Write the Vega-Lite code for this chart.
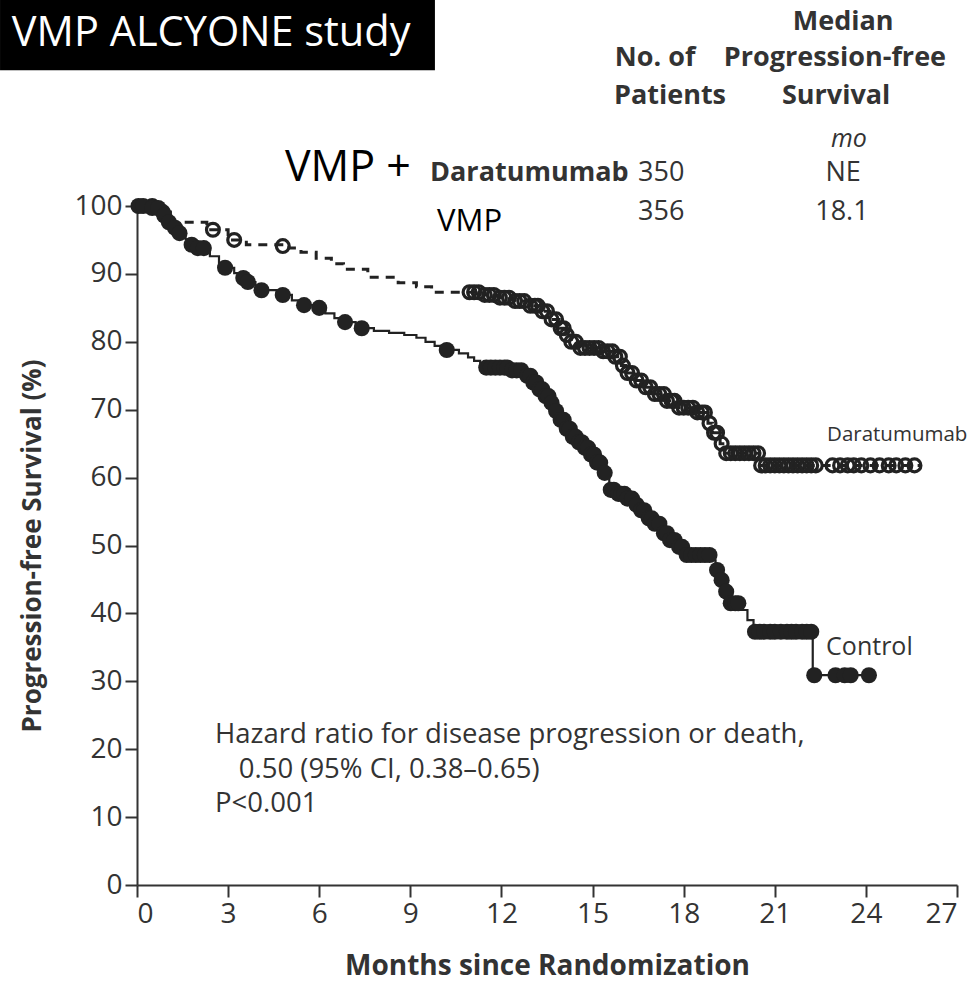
{
  "$schema": "https://vega.github.io/schema/vega-lite/v6.json",
  "width": 820,
  "height": 679,
  "autosize": {"type": "none"},
  "padding": {"left": 137, "top": 206, "right": 12, "bottom": 103},
  "background": "white",
  "datasets": {
    "km": [
      {"arm": "Daratumumab", "month": 0, "pfs": 100},
      {"arm": "Daratumumab", "month": 0.9, "pfs": 99.1},
      {"arm": "Daratumumab", "month": 1.2, "pfs": 97.6},
      {"arm": "Daratumumab", "month": 2.3, "pfs": 96.5},
      {"arm": "Daratumumab", "month": 3.0, "pfs": 95.0},
      {"arm": "Daratumumab", "month": 3.6, "pfs": 94.3},
      {"arm": "Daratumumab", "month": 5.0, "pfs": 93.8},
      {"arm": "Daratumumab", "month": 5.4, "pfs": 93.2},
      {"arm": "Daratumumab", "month": 5.9, "pfs": 92.3},
      {"arm": "Daratumumab", "month": 6.4, "pfs": 91.5},
      {"arm": "Daratumumab", "month": 6.8, "pfs": 90.7},
      {"arm": "Daratumumab", "month": 7.6, "pfs": 89.5},
      {"arm": "Daratumumab", "month": 8.6, "pfs": 88.7},
      {"arm": "Daratumumab", "month": 9.2, "pfs": 88.1},
      {"arm": "Daratumumab", "month": 9.7, "pfs": 87.3},
      {"arm": "Daratumumab", "month": 11.4, "pfs": 86.9},
      {"arm": "Daratumumab", "month": 11.9, "pfs": 86.5},
      {"arm": "Daratumumab", "month": 12.4, "pfs": 86.0},
      {"arm": "Daratumumab", "month": 12.9, "pfs": 85.3},
      {"arm": "Daratumumab", "month": 13.3, "pfs": 84.5},
      {"arm": "Daratumumab", "month": 13.6, "pfs": 83.3},
      {"arm": "Daratumumab", "month": 13.9, "pfs": 82.0},
      {"arm": "Daratumumab", "month": 14.1, "pfs": 81.0},
      {"arm": "Daratumumab", "month": 14.3, "pfs": 80.0},
      {"arm": "Daratumumab", "month": 14.5, "pfs": 79.1},
      {"arm": "Daratumumab", "month": 15.3, "pfs": 78.6},
      {"arm": "Daratumumab", "month": 15.7, "pfs": 77.8},
      {"arm": "Daratumumab", "month": 15.95, "pfs": 76.5},
      {"arm": "Daratumumab", "month": 16.1, "pfs": 75.4},
      {"arm": "Daratumumab", "month": 16.4, "pfs": 74.3},
      {"arm": "Daratumumab", "month": 16.7, "pfs": 73.3},
      {"arm": "Daratumumab", "month": 17.0, "pfs": 72.3},
      {"arm": "Daratumumab", "month": 17.4, "pfs": 71.3},
      {"arm": "Daratumumab", "month": 17.8, "pfs": 70.3},
      {"arm": "Daratumumab", "month": 18.4, "pfs": 69.6},
      {"arm": "Daratumumab", "month": 18.8, "pfs": 68.0},
      {"arm": "Daratumumab", "month": 18.95, "pfs": 66.6},
      {"arm": "Daratumumab", "month": 19.2, "pfs": 65.0},
      {"arm": "Daratumumab", "month": 19.35, "pfs": 63.6},
      {"arm": "Daratumumab", "month": 20.5, "pfs": 61.8},
      {"arm": "Daratumumab", "month": 25.8, "pfs": 61.8},
      {"arm": "Control", "month": 0, "pfs": 100},
      {"arm": "Control", "month": 0.35, "pfs": 99.7},
      {"arm": "Control", "month": 0.8, "pfs": 98.6},
      {"arm": "Control", "month": 1.0, "pfs": 97.6},
      {"arm": "Control", "month": 1.2, "pfs": 96.8},
      {"arm": "Control", "month": 1.4, "pfs": 96.0},
      {"arm": "Control", "month": 1.6, "pfs": 95.1},
      {"arm": "Control", "month": 1.8, "pfs": 94.3},
      {"arm": "Control", "month": 1.95, "pfs": 93.8},
      {"arm": "Control", "month": 2.4, "pfs": 92.6},
      {"arm": "Control", "month": 2.7, "pfs": 91.6},
      {"arm": "Control", "month": 2.9, "pfs": 90.9},
      {"arm": "Control", "month": 3.2, "pfs": 90.1},
      {"arm": "Control", "month": 3.45, "pfs": 89.4},
      {"arm": "Control", "month": 3.6, "pfs": 88.8},
      {"arm": "Control", "month": 3.9, "pfs": 88.1},
      {"arm": "Control", "month": 4.1, "pfs": 87.6},
      {"arm": "Control", "month": 4.6, "pfs": 86.9},
      {"arm": "Control", "month": 5.1, "pfs": 86.1},
      {"arm": "Control", "month": 5.4, "pfs": 85.4},
      {"arm": "Control", "month": 5.9, "pfs": 85.0},
      {"arm": "Control", "month": 6.2, "pfs": 84.2},
      {"arm": "Control", "month": 6.5, "pfs": 83.5},
      {"arm": "Control", "month": 6.8, "pfs": 82.9},
      {"arm": "Control", "month": 7.2, "pfs": 82.0},
      {"arm": "Control", "month": 7.8, "pfs": 81.6},
      {"arm": "Control", "month": 8.3, "pfs": 81.3},
      {"arm": "Control", "month": 8.8, "pfs": 81.0},
      {"arm": "Control", "month": 9.2, "pfs": 80.6},
      {"arm": "Control", "month": 9.5, "pfs": 80.0},
      {"arm": "Control", "month": 9.8, "pfs": 79.4},
      {"arm": "Control", "month": 10.1, "pfs": 78.8},
      {"arm": "Control", "month": 10.6, "pfs": 78.3},
      {"arm": "Control", "month": 10.9, "pfs": 77.7},
      {"arm": "Control", "month": 11.1, "pfs": 77.2},
      {"arm": "Control", "month": 11.3, "pfs": 76.6},
      {"arm": "Control", "month": 11.45, "pfs": 76.2},
      {"arm": "Control", "month": 12.3, "pfs": 75.8},
      {"arm": "Control", "month": 12.8, "pfs": 75.0},
      {"arm": "Control", "month": 13.0, "pfs": 74.0},
      {"arm": "Control", "month": 13.2, "pfs": 73.0},
      {"arm": "Control", "month": 13.4, "pfs": 72.0},
      {"arm": "Control", "month": 13.6, "pfs": 71.0},
      {"arm": "Control", "month": 13.75, "pfs": 69.8},
      {"arm": "Control", "month": 13.9, "pfs": 68.5},
      {"arm": "Control", "month": 14.1, "pfs": 67.2},
      {"arm": "Control", "month": 14.3, "pfs": 66.0},
      {"arm": "Control", "month": 14.5, "pfs": 65.2},
      {"arm": "Control", "month": 14.7, "pfs": 64.4},
      {"arm": "Control", "month": 14.9, "pfs": 63.4},
      {"arm": "Control", "month": 15.1, "pfs": 62.2},
      {"arm": "Control", "month": 15.35, "pfs": 60.7},
      {"arm": "Control", "month": 15.55, "pfs": 58.2},
      {"arm": "Control", "month": 15.8, "pfs": 57.6},
      {"arm": "Control", "month": 16.1, "pfs": 56.9},
      {"arm": "Control", "month": 16.4, "pfs": 56.0},
      {"arm": "Control", "month": 16.6, "pfs": 55.2},
      {"arm": "Control", "month": 16.8, "pfs": 54.0},
      {"arm": "Control", "month": 17.0, "pfs": 53.2},
      {"arm": "Control", "month": 17.3, "pfs": 51.8},
      {"arm": "Control", "month": 17.5, "pfs": 50.8},
      {"arm": "Control", "month": 17.8, "pfs": 49.8},
      {"arm": "Control", "month": 18.05, "pfs": 48.6},
      {"arm": "Control", "month": 18.95, "pfs": 47.8},
      {"arm": "Control", "month": 19.05, "pfs": 46.4},
      {"arm": "Control", "month": 19.2, "pfs": 44.9},
      {"arm": "Control", "month": 19.35, "pfs": 43.2},
      {"arm": "Control", "month": 19.5, "pfs": 41.5},
      {"arm": "Control", "month": 19.85, "pfs": 40.5},
      {"arm": "Control", "month": 20.1, "pfs": 39.0},
      {"arm": "Control", "month": 20.3, "pfs": 37.3},
      {"arm": "Control", "month": 22.25, "pfs": 30.9},
      {"arm": "Control", "month": 24.3, "pfs": 30.9}
    ],
    "censored": [
      {"arm": "Daratumumab", "month": 0.5, "pfs": 100},
      {"arm": "Daratumumab", "month": 0.85, "pfs": 99.1},
      {"arm": "Daratumumab", "month": 2.5, "pfs": 96.5},
      {"arm": "Daratumumab", "month": 3.2, "pfs": 95.0},
      {"arm": "Daratumumab", "month": 4.8, "pfs": 94.1},
      {"arm": "Daratumumab", "month": 10.95, "pfs": 87.3},
      {"arm": "Daratumumab", "month": 11.1, "pfs": 87.3},
      {"arm": "Daratumumab", "month": 11.25, "pfs": 87.3},
      {"arm": "Daratumumab", "month": 11.45, "pfs": 86.9},
      {"arm": "Daratumumab", "month": 11.6, "pfs": 86.9},
      {"arm": "Daratumumab", "month": 11.75, "pfs": 86.9},
      {"arm": "Daratumumab", "month": 11.95, "pfs": 86.5},
      {"arm": "Daratumumab", "month": 12.1, "pfs": 86.5},
      {"arm": "Daratumumab", "month": 12.25, "pfs": 86.5},
      {"arm": "Daratumumab", "month": 12.45, "pfs": 86.0},
      {"arm": "Daratumumab", "month": 12.6, "pfs": 86.0},
      {"arm": "Daratumumab", "month": 12.75, "pfs": 86.0},
      {"arm": "Daratumumab", "month": 12.95, "pfs": 85.3},
      {"arm": "Daratumumab", "month": 13.1, "pfs": 85.3},
      {"arm": "Daratumumab", "month": 13.2, "pfs": 85.3},
      {"arm": "Daratumumab", "month": 13.35, "pfs": 84.5},
      {"arm": "Daratumumab", "month": 13.5, "pfs": 84.5},
      {"arm": "Daratumumab", "month": 13.65, "pfs": 83.3},
      {"arm": "Daratumumab", "month": 13.8, "pfs": 83.3},
      {"arm": "Daratumumab", "month": 13.95, "pfs": 82.0},
      {"arm": "Daratumumab", "month": 14.05, "pfs": 82.0},
      {"arm": "Daratumumab", "month": 14.15, "pfs": 81.0},
      {"arm": "Daratumumab", "month": 14.3, "pfs": 80.0},
      {"arm": "Daratumumab", "month": 14.45, "pfs": 80.0},
      {"arm": "Daratumumab", "month": 14.6, "pfs": 79.1},
      {"arm": "Daratumumab", "month": 14.75, "pfs": 79.1},
      {"arm": "Daratumumab", "month": 14.9, "pfs": 79.1},
      {"arm": "Daratumumab", "month": 15.05, "pfs": 79.1},
      {"arm": "Daratumumab", "month": 15.2, "pfs": 79.1},
      {"arm": "Daratumumab", "month": 15.35, "pfs": 78.6},
      {"arm": "Daratumumab", "month": 15.5, "pfs": 78.6},
      {"arm": "Daratumumab", "month": 15.65, "pfs": 78.6},
      {"arm": "Daratumumab", "month": 15.75, "pfs": 77.8},
      {"arm": "Daratumumab", "month": 15.9, "pfs": 77.8},
      {"arm": "Daratumumab", "month": 16.0, "pfs": 76.5},
      {"arm": "Daratumumab", "month": 16.15, "pfs": 75.4},
      {"arm": "Daratumumab", "month": 16.3, "pfs": 75.4},
      {"arm": "Daratumumab", "month": 16.45, "pfs": 74.3},
      {"arm": "Daratumumab", "month": 16.6, "pfs": 74.3},
      {"arm": "Daratumumab", "month": 16.75, "pfs": 73.3},
      {"arm": "Daratumumab", "month": 16.9, "pfs": 73.3},
      {"arm": "Daratumumab", "month": 17.05, "pfs": 72.3},
      {"arm": "Daratumumab", "month": 17.2, "pfs": 72.3},
      {"arm": "Daratumumab", "month": 17.35, "pfs": 72.3},
      {"arm": "Daratumumab", "month": 17.45, "pfs": 71.3},
      {"arm": "Daratumumab", "month": 17.6, "pfs": 71.3},
      {"arm": "Daratumumab", "month": 17.7, "pfs": 71.3},
      {"arm": "Daratumumab", "month": 17.85, "pfs": 70.3},
      {"arm": "Daratumumab", "month": 18.0, "pfs": 70.3},
      {"arm": "Daratumumab", "month": 18.15, "pfs": 70.3},
      {"arm": "Daratumumab", "month": 18.3, "pfs": 70.3},
      {"arm": "Daratumumab", "month": 18.45, "pfs": 69.6},
      {"arm": "Daratumumab", "month": 18.6, "pfs": 69.6},
      {"arm": "Daratumumab", "month": 18.7, "pfs": 69.6},
      {"arm": "Daratumumab", "month": 18.85, "pfs": 68.0},
      {"arm": "Daratumumab", "month": 19.0, "pfs": 66.6},
      {"arm": "Daratumumab", "month": 19.1, "pfs": 66.6},
      {"arm": "Daratumumab", "month": 19.25, "pfs": 65.0},
      {"arm": "Daratumumab", "month": 19.4, "pfs": 63.6},
      {"arm": "Daratumumab", "month": 19.55, "pfs": 63.6},
      {"arm": "Daratumumab", "month": 19.7, "pfs": 63.6},
      {"arm": "Daratumumab", "month": 19.85, "pfs": 63.6},
      {"arm": "Daratumumab", "month": 20.0, "pfs": 63.6},
      {"arm": "Daratumumab", "month": 20.15, "pfs": 63.6},
      {"arm": "Daratumumab", "month": 20.3, "pfs": 63.6},
      {"arm": "Daratumumab", "month": 20.45, "pfs": 63.6},
      {"arm": "Daratumumab", "month": 20.55, "pfs": 61.8},
      {"arm": "Daratumumab", "month": 20.7, "pfs": 61.8},
      {"arm": "Daratumumab", "month": 20.85, "pfs": 61.8},
      {"arm": "Daratumumab", "month": 21.0, "pfs": 61.8},
      {"arm": "Daratumumab", "month": 21.15, "pfs": 61.8},
      {"arm": "Daratumumab", "month": 21.3, "pfs": 61.8},
      {"arm": "Daratumumab", "month": 21.45, "pfs": 61.8},
      {"arm": "Daratumumab", "month": 21.6, "pfs": 61.8},
      {"arm": "Daratumumab", "month": 21.75, "pfs": 61.8},
      {"arm": "Daratumumab", "month": 21.9, "pfs": 61.8},
      {"arm": "Daratumumab", "month": 22.05, "pfs": 61.8},
      {"arm": "Daratumumab", "month": 22.2, "pfs": 61.8},
      {"arm": "Daratumumab", "month": 22.35, "pfs": 61.8},
      {"arm": "Daratumumab", "month": 22.9, "pfs": 61.8},
      {"arm": "Daratumumab", "month": 23.15, "pfs": 61.8},
      {"arm": "Daratumumab", "month": 23.4, "pfs": 61.8},
      {"arm": "Daratumumab", "month": 23.6, "pfs": 61.8},
      {"arm": "Daratumumab", "month": 23.85, "pfs": 61.8},
      {"arm": "Daratumumab", "month": 24.15, "pfs": 61.8},
      {"arm": "Daratumumab", "month": 24.45, "pfs": 61.8},
      {"arm": "Daratumumab", "month": 24.75, "pfs": 61.8},
      {"arm": "Daratumumab", "month": 25.0, "pfs": 61.8},
      {"arm": "Daratumumab", "month": 25.3, "pfs": 61.8},
      {"arm": "Daratumumab", "month": 25.6, "pfs": 61.8},
      {"arm": "Control", "month": 0.05, "pfs": 100},
      {"arm": "Control", "month": 0.2, "pfs": 100},
      {"arm": "Control", "month": 0.5, "pfs": 99.7},
      {"arm": "Control", "month": 0.7, "pfs": 99.7},
      {"arm": "Control", "month": 0.9, "pfs": 98.6},
      {"arm": "Control", "month": 1.05, "pfs": 97.6},
      {"arm": "Control", "month": 1.25, "pfs": 96.8},
      {"arm": "Control", "month": 1.4, "pfs": 96.0},
      {"arm": "Control", "month": 1.8, "pfs": 94.3},
      {"arm": "Control", "month": 2.0, "pfs": 93.8},
      {"arm": "Control", "month": 2.2, "pfs": 93.8},
      {"arm": "Control", "month": 2.9, "pfs": 90.9},
      {"arm": "Control", "month": 3.5, "pfs": 89.4},
      {"arm": "Control", "month": 3.65, "pfs": 88.8},
      {"arm": "Control", "month": 4.1, "pfs": 87.6},
      {"arm": "Control", "month": 4.8, "pfs": 86.9},
      {"arm": "Control", "month": 5.5, "pfs": 85.4},
      {"arm": "Control", "month": 6.0, "pfs": 85.0},
      {"arm": "Control", "month": 6.85, "pfs": 82.9},
      {"arm": "Control", "month": 7.4, "pfs": 82.0},
      {"arm": "Control", "month": 10.2, "pfs": 78.8},
      {"arm": "Control", "month": 11.5, "pfs": 76.2},
      {"arm": "Control", "month": 11.65, "pfs": 76.2},
      {"arm": "Control", "month": 11.8, "pfs": 76.2},
      {"arm": "Control", "month": 11.95, "pfs": 76.2},
      {"arm": "Control", "month": 12.1, "pfs": 76.2},
      {"arm": "Control", "month": 12.2, "pfs": 76.2},
      {"arm": "Control", "month": 12.35, "pfs": 75.8},
      {"arm": "Control", "month": 12.5, "pfs": 75.8},
      {"arm": "Control", "month": 12.65, "pfs": 75.8},
      {"arm": "Control", "month": 12.85, "pfs": 75.0},
      {"arm": "Control", "month": 12.95, "pfs": 75.0},
      {"arm": "Control", "month": 13.05, "pfs": 74.0},
      {"arm": "Control", "month": 13.15, "pfs": 74.0},
      {"arm": "Control", "month": 13.25, "pfs": 73.0},
      {"arm": "Control", "month": 13.35, "pfs": 73.0},
      {"arm": "Control", "month": 13.45, "pfs": 72.0},
      {"arm": "Control", "month": 13.55, "pfs": 72.0},
      {"arm": "Control", "month": 13.65, "pfs": 71.0},
      {"arm": "Control", "month": 13.8, "pfs": 69.8},
      {"arm": "Control", "month": 13.95, "pfs": 68.5},
      {"arm": "Control", "month": 14.05, "pfs": 68.5},
      {"arm": "Control", "month": 14.15, "pfs": 67.2},
      {"arm": "Control", "month": 14.25, "pfs": 67.2},
      {"arm": "Control", "month": 14.35, "pfs": 66.0},
      {"arm": "Control", "month": 14.45, "pfs": 66.0},
      {"arm": "Control", "month": 14.55, "pfs": 65.2},
      {"arm": "Control", "month": 14.65, "pfs": 65.2},
      {"arm": "Control", "month": 14.75, "pfs": 64.4},
      {"arm": "Control", "month": 14.85, "pfs": 64.4},
      {"arm": "Control", "month": 14.95, "pfs": 63.4},
      {"arm": "Control", "month": 15.05, "pfs": 63.4},
      {"arm": "Control", "month": 15.15, "pfs": 62.2},
      {"arm": "Control", "month": 15.25, "pfs": 62.2},
      {"arm": "Control", "month": 15.4, "pfs": 60.7},
      {"arm": "Control", "month": 15.6, "pfs": 58.2},
      {"arm": "Control", "month": 15.7, "pfs": 58.2},
      {"arm": "Control", "month": 15.85, "pfs": 57.6},
      {"arm": "Control", "month": 15.95, "pfs": 57.6},
      {"arm": "Control", "month": 16.05, "pfs": 57.6},
      {"arm": "Control", "month": 16.15, "pfs": 56.9},
      {"arm": "Control", "month": 16.3, "pfs": 56.9},
      {"arm": "Control", "month": 16.45, "pfs": 56.0},
      {"arm": "Control", "month": 16.6, "pfs": 55.2},
      {"arm": "Control", "month": 16.7, "pfs": 55.2},
      {"arm": "Control", "month": 16.85, "pfs": 54.0},
      {"arm": "Control", "month": 16.95, "pfs": 54.0},
      {"arm": "Control", "month": 17.05, "pfs": 53.2},
      {"arm": "Control", "month": 17.2, "pfs": 53.2},
      {"arm": "Control", "month": 17.35, "pfs": 51.8},
      {"arm": "Control", "month": 17.45, "pfs": 51.8},
      {"arm": "Control", "month": 17.55, "pfs": 50.8},
      {"arm": "Control", "month": 17.7, "pfs": 50.8},
      {"arm": "Control", "month": 17.85, "pfs": 49.8},
      {"arm": "Control", "month": 17.95, "pfs": 49.8},
      {"arm": "Control", "month": 18.1, "pfs": 48.6},
      {"arm": "Control", "month": 18.25, "pfs": 48.6},
      {"arm": "Control", "month": 18.4, "pfs": 48.6},
      {"arm": "Control", "month": 18.55, "pfs": 48.6},
      {"arm": "Control", "month": 18.7, "pfs": 48.6},
      {"arm": "Control", "month": 18.85, "pfs": 48.6},
      {"arm": "Control", "month": 19.1, "pfs": 46.4},
      {"arm": "Control", "month": 19.25, "pfs": 44.9},
      {"arm": "Control", "month": 19.4, "pfs": 43.2},
      {"arm": "Control", "month": 19.55, "pfs": 41.5},
      {"arm": "Control", "month": 19.7, "pfs": 41.5},
      {"arm": "Control", "month": 19.8, "pfs": 41.5},
      {"arm": "Control", "month": 20.35, "pfs": 37.3},
      {"arm": "Control", "month": 20.5, "pfs": 37.3},
      {"arm": "Control", "month": 20.65, "pfs": 37.3},
      {"arm": "Control", "month": 20.85, "pfs": 37.3},
      {"arm": "Control", "month": 21.0, "pfs": 37.3},
      {"arm": "Control", "month": 21.2, "pfs": 37.3},
      {"arm": "Control", "month": 21.4, "pfs": 37.3},
      {"arm": "Control", "month": 21.55, "pfs": 37.3},
      {"arm": "Control", "month": 21.7, "pfs": 37.3},
      {"arm": "Control", "month": 21.9, "pfs": 37.3},
      {"arm": "Control", "month": 22.05, "pfs": 37.3},
      {"arm": "Control", "month": 22.2, "pfs": 37.3},
      {"arm": "Control", "month": 22.3, "pfs": 30.9},
      {"arm": "Control", "month": 23.0, "pfs": 30.9},
      {"arm": "Control", "month": 23.3, "pfs": 30.9},
      {"arm": "Control", "month": 23.5, "pfs": 30.9},
      {"arm": "Control", "month": 24.1, "pfs": 30.9}
    ]
  },
  "layer": [
    {
      "data": {"values": [{}]},
      "mark": {"type": "rect", "color": "black", "clip": false},
      "encoding": {
        "x": {"datum": -4.51, "type": "quantitative"},
        "x2": {"datum": 9.81},
        "y": {"datum": 130.4, "type": "quantitative"},
        "y2": {"datum": 120.0}
      }
    },
    {
      "data": {"name": "km"},
      "transform": [{"filter": "datum.arm === 'Daratumumab'"}],
      "mark": {"type": "line", "interpolate": "step-after", "color": "#222", "strokeWidth": 3, "strokeDash": [9, 7]},
      "encoding": {
        "x": {
          "field": "month", "type": "quantitative",
          "scale": {"domain": [0, 27], "nice": false, "zero": false},
          "axis": {"title": "Months since Randomization", "values": [0, 3, 6, 9, 12, 15, 18, 21, 24, 27]}
        },
        "y": {
          "field": "pfs", "type": "quantitative",
          "scale": {"domain": [0, 100], "nice": false},
          "axis": {"title": "Progression-free Survival (%)", "values": [0, 10, 20, 30, 40, 50, 60, 70, 80, 90, 100]}
        }
      }
    },
    {
      "data": {"name": "km"},
      "transform": [{"filter": "datum.arm === 'Control'"}],
      "mark": {"type": "line", "interpolate": "step-after", "color": "#222", "strokeWidth": 2.2},
      "encoding": {
        "x": {"field": "month", "type": "quantitative"},
        "y": {"field": "pfs", "type": "quantitative"}
      }
    },
    {
      "data": {"name": "censored"},
      "transform": [{"filter": "datum.arm === 'Daratumumab'"}],
      "mark": {"type": "point", "shape": "circle", "filled": false, "stroke": "#222", "strokeWidth": 3.2, "size": 165, "opacity": 1},
      "encoding": {
        "x": {"field": "month", "type": "quantitative"},
        "y": {"field": "pfs", "type": "quantitative"}
      }
    },
    {
      "data": {"name": "censored"},
      "transform": [{"filter": "datum.arm === 'Control'"}],
      "mark": {"type": "circle", "color": "#222", "size": 260, "opacity": 1},
      "encoding": {
        "x": {"field": "month", "type": "quantitative"},
        "y": {"field": "pfs", "type": "quantitative"}
      }
    },
    {
      "data": {"values": [{}]},
      "mark": {"type": "text", "text": "VMP ALCYONE study", "align": "left", "baseline": "alphabetic", "font": "Open Sans", "fontSize": 41.5, "color": "white"},
      "encoding": {"x": {"datum": -4.12, "type": "quantitative"}, "y": {"datum": 123.6, "type": "quantitative"}}
    },
    {
      "data": {"values": [{}]},
      "mark": {"type": "text", "text": "VMP +", "align": "left", "baseline": "alphabetic", "font": "Open Sans", "fontSize": 43, "color": "black"},
      "encoding": {"x": {"datum": 4.87, "type": "quantitative"}, "y": {"datum": 103.7, "type": "quantitative"}}
    },
    {
      "data": {"values": [{}]},
      "mark": {"type": "text", "text": "VMP", "align": "left", "baseline": "alphabetic", "font": "Open Sans", "fontSize": 31, "color": "black"},
      "encoding": {"x": {"datum": 9.88, "type": "quantitative"}, "y": {"datum": 96.3, "type": "quantitative"}}
    },
    {
      "data": {"values": [{}]},
      "mark": {"type": "text", "text": "Daratumumab", "align": "left", "baseline": "alphabetic", "font": "Open Sans", "fontSize": 27, "fontWeight": "bold", "color": "#333"},
      "encoding": {"x": {"datum": 9.65, "type": "quantitative"}, "y": {"datum": 103.7, "type": "quantitative"}}
    },
    {
      "data": {"values": [{}]},
      "mark": {"type": "text", "text": "350", "align": "left", "baseline": "alphabetic", "font": "Open Sans", "fontSize": 27, "color": "#333"},
      "encoding": {"x": {"datum": 16.5, "type": "quantitative"}, "y": {"datum": 103.7, "type": "quantitative"}}
    },
    {
      "data": {"values": [{}]},
      "mark": {"type": "text", "text": "356", "align": "left", "baseline": "alphabetic", "font": "Open Sans", "fontSize": 27, "color": "#333"},
      "encoding": {"x": {"datum": 16.5, "type": "quantitative"}, "y": {"datum": 97.9, "type": "quantitative"}}
    },
    {
      "data": {"values": [{}]},
      "mark": {"type": "text", "text": "NE", "align": "center", "baseline": "alphabetic", "font": "Open Sans", "fontSize": 27, "color": "#333"},
      "encoding": {"x": {"datum": 23.25, "type": "quantitative"}, "y": {"datum": 103.7, "type": "quantitative"}}
    },
    {
      "data": {"values": [{}]},
      "mark": {"type": "text", "text": "18.1", "align": "center", "baseline": "alphabetic", "font": "Open Sans", "fontSize": 27, "color": "#333"},
      "encoding": {"x": {"datum": 23.21, "type": "quantitative"}, "y": {"datum": 97.9, "type": "quantitative"}}
    },
    {
      "data": {"values": [{}]},
      "mark": {"type": "text", "text": "mo", "align": "center", "baseline": "alphabetic", "font": "Open Sans", "fontSize": 25, "fontStyle": "italic", "color": "#333"},
      "encoding": {"x": {"datum": 23.44, "type": "quantitative"}, "y": {"datum": 108.7, "type": "quantitative"}}
    },
    {
      "data": {"values": [{}]},
      "mark": {"type": "text", "text": "Median", "align": "center", "baseline": "alphabetic", "font": "Open Sans", "fontSize": 27, "fontWeight": "bold", "color": "#333"},
      "encoding": {"x": {"datum": 23.25, "type": "quantitative"}, "y": {"datum": 125.9, "type": "quantitative"}}
    },
    {
      "data": {"values": [{}]},
      "mark": {"type": "text", "text": "No. of", "align": "center", "baseline": "alphabetic", "font": "Open Sans", "fontSize": 27, "fontWeight": "bold", "color": "#333"},
      "encoding": {"x": {"datum": 17.06, "type": "quantitative"}, "y": {"datum": 120.6, "type": "quantitative"}}
    },
    {
      "data": {"values": [{}]},
      "mark": {"type": "text", "text": "Progression-free", "align": "center", "baseline": "alphabetic", "font": "Open Sans", "fontSize": 27, "fontWeight": "bold", "color": "#333"},
      "encoding": {"x": {"datum": 22.98, "type": "quantitative"}, "y": {"datum": 120.6, "type": "quantitative"}}
    },
    {
      "data": {"values": [{}]},
      "mark": {"type": "text", "text": "Patients", "align": "center", "baseline": "alphabetic", "font": "Open Sans", "fontSize": 27, "fontWeight": "bold", "color": "#333"},
      "encoding": {"x": {"datum": 17.55, "type": "quantitative"}, "y": {"datum": 115.0, "type": "quantitative"}}
    },
    {
      "data": {"values": [{}]},
      "mark": {"type": "text", "text": "Survival", "align": "center", "baseline": "alphabetic", "font": "Open Sans", "fontSize": 27, "fontWeight": "bold", "color": "#333"},
      "encoding": {"x": {"datum": 23.02, "type": "quantitative"}, "y": {"datum": 115.0, "type": "quantitative"}}
    },
    {
      "data": {"values": [{}]},
      "mark": {"type": "text", "text": "Daratumumab", "align": "left", "baseline": "alphabetic", "font": "Open Sans", "fontSize": 20.5, "color": "#333"},
      "encoding": {"x": {"datum": 22.72, "type": "quantitative"}, "y": {"datum": 65.4, "type": "quantitative"}}
    },
    {
      "data": {"values": [{}]},
      "mark": {"type": "text", "text": "Control", "align": "left", "baseline": "alphabetic", "font": "Open Sans", "fontSize": 25, "color": "#333"},
      "encoding": {"x": {"datum": 22.69, "type": "quantitative"}, "y": {"datum": 33.9, "type": "quantitative"}}
    },
    {
      "data": {"values": [{}]},
      "mark": {"type": "text", "text": "Hazard ratio for disease progression or death,", "align": "left", "baseline": "alphabetic", "font": "Open Sans", "fontSize": 27.5, "color": "#333"},
      "encoding": {"x": {"datum": 2.57, "type": "quantitative"}, "y": {"datum": 20.9, "type": "quantitative"}}
    },
    {
      "data": {"values": [{}]},
      "mark": {"type": "text", "text": "0.50 (95% CI, 0.38–0.65)", "align": "left", "baseline": "alphabetic", "font": "Open Sans", "fontSize": 27.5, "color": "#333"},
      "encoding": {"x": {"datum": 3.35, "type": "quantitative"}, "y": {"datum": 15.8, "type": "quantitative"}}
    },
    {
      "data": {"values": [{}]},
      "mark": {"type": "text", "text": "P<0.001", "align": "left", "baseline": "alphabetic", "font": "Open Sans", "fontSize": 27.5, "color": "#333"},
      "encoding": {"x": {"datum": 2.57, "type": "quantitative"}, "y": {"datum": 10.7, "type": "quantitative"}}
    }
  ],
  "config": {
    "view": {"stroke": null},
    "axis": {
      "grid": false,
      "domainColor": "#333",
      "domainWidth": 2,
      "tickColor": "#333",
      "tickWidth": 2,
      "tickSize": 12,
      "labelFont": "Open Sans",
      "labelFontSize": 28,
      "labelColor": "#333",
      "titleFont": "Open Sans",
      "titleFontWeight": "bold",
      "titleColor": "#333"
    },
    "axisX": {"labelPadding": 3, "titlePadding": 24, "titleFontSize": 28},
    "axisY": {"labelPadding": 3, "titlePadding": 28, "titleFontSize": 26}
  }
}
